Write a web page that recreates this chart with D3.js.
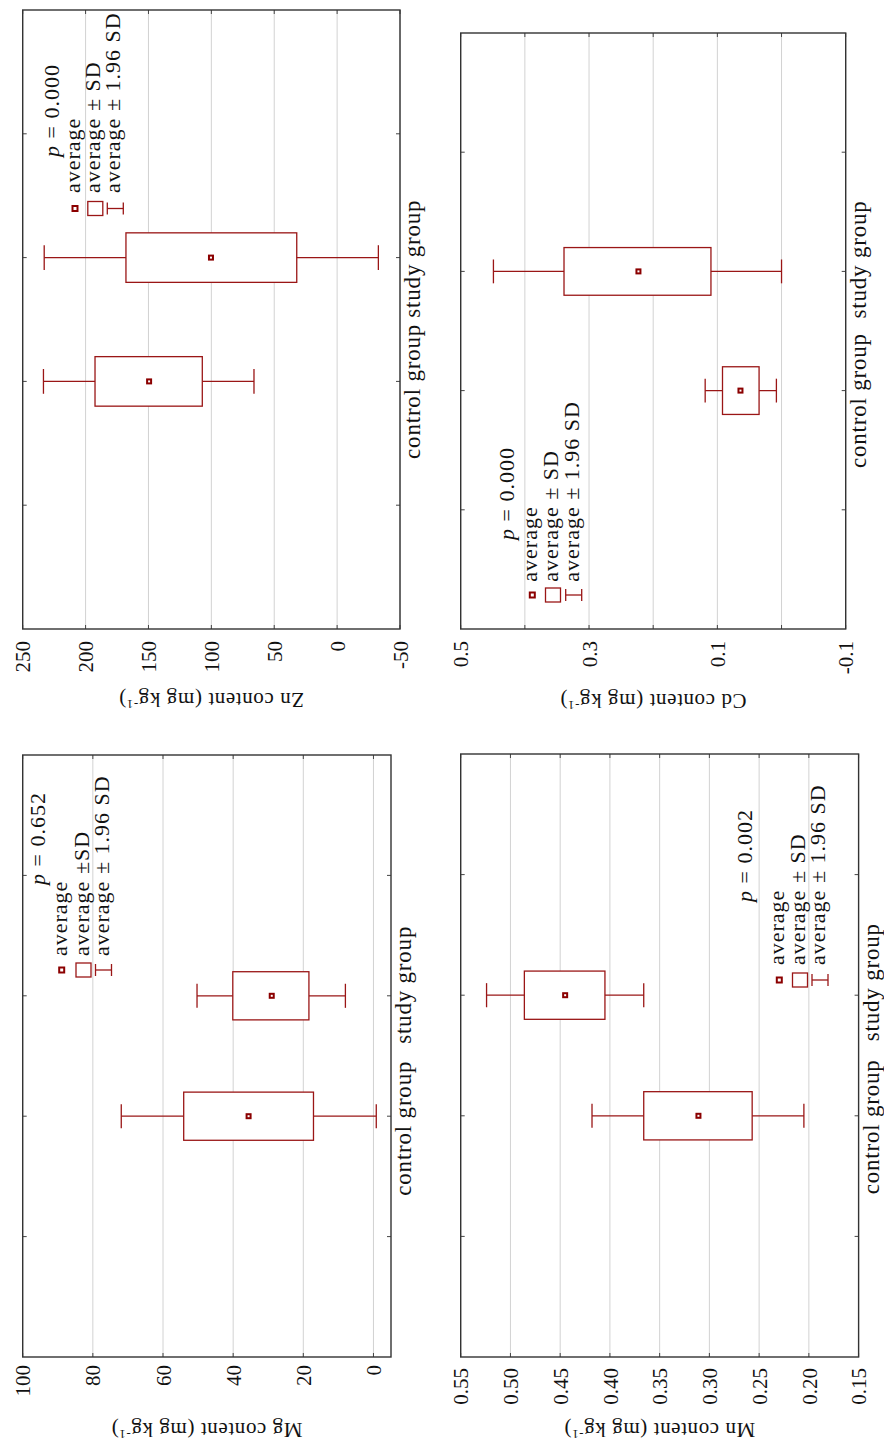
<!DOCTYPE html>
<html>
<head>
<meta charset="utf-8">
<script src="https://cdn.jsdelivr.net/npm/d3@7"></script>
<style>
  body { margin: 0; background: #fff; }
  text { font-family: "Liberation Serif", "Times New Roman", serif; fill: #111; }
</style>
</head>
<body>
<div id="box"></div>
<script>
// groups sit at 2 and 3 on a 0..5 category axis, ticks at 1..4
var groups = ["control group", "study group"];
var groupAt = [2, 3];
var catTicks = [1, 2, 3, 4];

// [low, high] pairs are average -/+ SD and average -/+ 1.96 SD
var mgAvg = [35.6, 29.0];
var mgSD = [[17.1, 54.1], [18.4, 40.1]];
var mgSD196 = [[-0.8, 71.9], [8.0, 50.3]];
var mgTicks = [0, 20, 40, 60, 80, 100];
var mgP = "0.652";

var znAvg = [149.5, 100.3];
var znSD = [[107.2, 192.5], [32.1, 167.9]];
var znSD196 = [[66.1, 233.5], [-32.8, 232.9]];
var znTicks = [-50, 0, 50, 100, 150, 200, 250];
var znP = "0.000";

var mnAvg = [0.311, 0.445];
var mnSD = [[0.257, 0.366], [0.405, 0.486]];
var mnSD196 = [[0.205, 0.418], [0.366, 0.524]];
var mnTicks = [0.15, 0.20, 0.25, 0.30, 0.35, 0.40, 0.45, 0.50, 0.55];
var mnP = "0.002";

var cdAvg = [0.064, 0.223];
var cdSD = [[0.035, 0.092], [0.110, 0.339]];
var cdSD196 = [[0.008, 0.119], [0.000, 0.449]];
var cdGrid = [-0.1, 0, 0.1, 0.2, 0.3, 0.4, 0.5];
var cdTicks = [-0.1, 0.1, 0.3, 0.5];
var cdP = "0.000";

var red = "#9a1616";

var svg = d3.select("#box")
    .append("svg")
    .attr("width", 884)
    .attr("height", 1449);

// the figure is printed turned a quarter turn, so values run right-to-left
var panels = [
    { el: "Mg", avg: mgAvg, sd: mgSD, ci: mgSD196, p: mgP, grid: mgTicks, labels: mgTicks, fmt: "d",
      domain: [100, -5], x0: 22.7, x1: 391, y0: 755, y1: 1357, gap: 8, titleY: 1423, catOff: [12, -11],
      sdText: "average \u00b1SD",
      leg: { px: 45, py: 885, sy: 970, ty: 956, cols: [61.7, 83.5, 103.5] } },
    { el: "Zn", avg: znAvg, sd: znSD, ci: znSD196, p: znP, grid: znTicks, labels: znTicks, fmt: "d",
      domain: [250, -50], x0: 22.7, x1: 400, y0: 10, y1: 629, gap: 12, titleY: 692.5, catOff: [10, 1],
      sdText: "average \u00b1 SD",
      leg: { px: 59, py: 157, sy: 208.5, ty: 193, cols: [75, 95.3, 115.3] } },
    { el: "Mn", avg: mnAvg, sd: mnSD, ci: mnSD196, p: mnP, grid: mnTicks, labels: mnTicks, fmt: ".2f",
      domain: [0.55, 0.15], x0: 460.7, x1: 858.6, y0: 754, y1: 1357, gap: 11, titleY: 1423, catOff: [11, -13],
      sdText: "average \u00b1 SD",
      leg: { px: 752, py: 902, sy: 980, ty: 965, cols: [779.3, 800, 820] } },
    { el: "Cd", avg: cdAvg, sd: cdSD, ci: cdSD196, p: cdP, grid: cdGrid, labels: cdTicks, fmt: ".1f",
      domain: [0.5, -0.1], x0: 460.7, x1: 845.7, y0: 33, y1: 629, gap: 12, titleY: 694, catOff: [10, -12],
      sdText: "average \u00b1 SD",
      leg: { px: 514, py: 540, sy: 595, ty: 581.7, cols: [532.3, 553, 573.7] } }
];

panels.forEach(drawPanel);

function drawPanel(p) {
    var x = d3.scaleLinear().domain(p.domain).range([p.x0, p.x1]);
    var y = d3.scaleLinear().domain([0, 5]).range([p.y1, p.y0]);
    var unit = Math.abs(y(1) - y(0));
    var g = svg.append("g");

    // grid lines
    g.selectAll(".grid")
        .data(p.grid)
        .enter()
        .append("line")
        .attr("x1", function(d) { return x(d); })
        .attr("x2", function(d) { return x(d); })
        .attr("y1", p.y0)
        .attr("y2", p.y1)
        .attr("stroke", "#d2d2d2")
        .attr("stroke-width", 1);

    // small inward ticks on all four edges
    p.grid.forEach(function(d) {
        g.append("line").attr("x1", x(d)).attr("x2", x(d)).attr("y1", p.y0).attr("y2", p.y0 + 4)
            .attr("stroke", "#444");
        g.append("line").attr("x1", x(d)).attr("x2", x(d)).attr("y1", p.y1).attr("y2", p.y1 - 4)
            .attr("stroke", "#444");
    });
    catTicks.forEach(function(d) {
        g.append("line").attr("x1", p.x0).attr("x2", p.x0 + 4).attr("y1", y(d)).attr("y2", y(d))
            .attr("stroke", "#444");
        g.append("line").attr("x1", p.x1).attr("x2", p.x1 - 4).attr("y1", y(d)).attr("y2", y(d))
            .attr("stroke", "#444");
    });

    // frame
    g.append("rect")
        .attr("x", p.x0)
        .attr("y", p.y0)
        .attr("width", p.x1 - p.x0)
        .attr("height", p.y1 - p.y0)
        .attr("fill", "none")
        .attr("stroke", "#333")
        .attr("stroke-width", 1.4);

    // value axis labels (plain hyphen for negatives, like the print)
    var f = d3.format(p.fmt);
    var axis = d3.axisBottom(x)
        .tickValues(p.labels)
        .tickSize(0)
        .tickFormat(function(d) { return f(d).replace("\u2212", "-"); });
    var axg = g.append("g")
        .attr("transform", "translate(0," + p.y1 + ")")
        .call(axis);
    axg.select(".domain").remove();
    axg.selectAll("text")
        .attr("x", 0)
        .attr("y", 0)
        .attr("dy", "0.34em")
        .attr("text-anchor", "end")
        .attr("font-size", 21)
        .attr("fill", "#111")
        .attr("transform", "translate(0," + p.gap + ") rotate(-90)");

    // axis title, upside down
    var t = g.append("text")
        .attr("transform", "translate(" + ((p.x0 + p.x1) / 2) + "," + p.titleY + ") rotate(180)")
        .attr("text-anchor", "middle")
        .attr("font-size", 21)
        .attr("letter-spacing", 0.6);
    t.append("tspan").text(p.el + " content (mg kg");
    t.append("tspan").attr("font-size", 13).attr("baseline-shift", "super").text("-1");
    t.append("tspan").text(")");

    // group labels
    g.selectAll(".cat")
        .data(groups)
        .enter()
        .append("text")
        .attr("transform", function(d, i) {
            return "translate(" + (p.x1 + 20) + "," + (y(groupAt[i]) + p.catOff[i]) + ") rotate(-90)";
        })
        .attr("text-anchor", "middle")
        .attr("font-size", 23)
        .attr("letter-spacing", 0.8)
        .text(function(d) { return d; });

    // whiskers, boxes and means
    groups.forEach(function(name, i) {
        var c = y(groupAt[i]);
        var half = unit * 0.2, cap = unit * 0.1;
        var lo = p.ci[i][0], hi = p.ci[i][1];
        g.append("line").attr("x1", x(hi)).attr("x2", x(lo)).attr("y1", c).attr("y2", c)
            .attr("stroke", red).attr("stroke-width", 1.3);
        [lo, hi].forEach(function(v) {
            g.append("line").attr("x1", x(v)).attr("x2", x(v)).attr("y1", c - cap).attr("y2", c + cap)
                .attr("stroke", red).attr("stroke-width", 1.3);
        });
        g.append("rect")
            .attr("x", x(p.sd[i][1]))
            .attr("y", c - half)
            .attr("width", x(p.sd[i][0]) - x(p.sd[i][1]))
            .attr("height", half * 2)
            .attr("fill", "#fff")
            .attr("stroke", red)
            .attr("stroke-width", 1.3);
        g.append("rect")
            .attr("x", x(p.avg[i]) - 2)
            .attr("y", c - 2)
            .attr("width", 4)
            .attr("height", 4)
            .attr("fill", "#fff")
            .attr("stroke", "#8b0000")
            .attr("stroke-width", 2);
    });

    // legend
    var L = p.leg;
    var pt = g.append("text")
        .attr("transform", "translate(" + L.px + "," + L.py + ") rotate(-90)")
        .attr("font-size", 22)
        .attr("letter-spacing", 1);
    pt.append("tspan").attr("font-style", "italic").text("p");
    pt.append("tspan").text(" = " + p.p);

    var rows = ["average", p.sdText, "average \u00b1 1.96 SD"];
    rows.forEach(function(r, k) {
        g.append("text")
            .attr("transform", "translate(" + (L.cols[k] + 5) + "," + L.ty + ") rotate(-90)")
            .attr("font-size", 22)
            .attr("letter-spacing", 1)
            .text(r);
    });
    g.append("rect")
        .attr("x", L.cols[0] - 2.5).attr("y", L.sy - 2.5)
        .attr("width", 5).attr("height", 5)
        .attr("fill", "#fff").attr("stroke", "#8b0000").attr("stroke-width", 2);
    g.append("rect")
        .attr("x", L.cols[1] - 7.5).attr("y", L.sy - 7)
        .attr("width", 15).attr("height", 14)
        .attr("fill", "#fff").attr("stroke", red).attr("stroke-width", 1.3);
    g.append("line")
        .attr("x1", L.cols[2] - 8).attr("x2", L.cols[2] + 8).attr("y1", L.sy).attr("y2", L.sy)
        .attr("stroke", red).attr("stroke-width", 1.3);
    [-8, 8].forEach(function(o) {
        g.append("line")
            .attr("x1", L.cols[2] + o).attr("x2", L.cols[2] + o).attr("y1", L.sy - 6).attr("y2", L.sy + 6)
            .attr("stroke", red).attr("stroke-width", 1.3);
    });
}
</script>
</body>
</html>
